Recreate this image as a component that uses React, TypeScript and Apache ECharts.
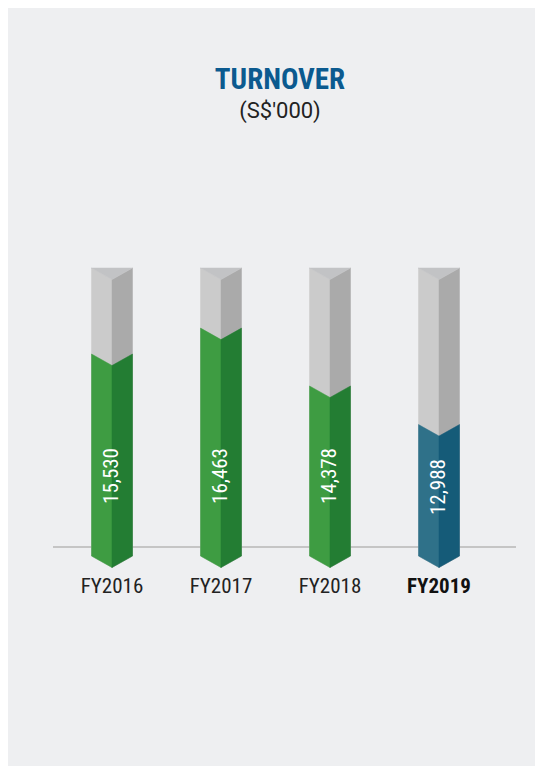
import React, { useEffect, useRef } from "react";
import * as echarts from "echarts";

const categories = ["FY2016", "FY2017", "FY2018", "FY2019"];
const turnover = [15530, 16463, 14378, 12988];
const highlightIndex = 3;
const titleText = "TURNOVER";
const unitText = "(S$'000)";
const axisMin = 8250;
const axisMax = 18630;

const NARROW = "'Liberation Sans Narrow', 'Arial Narrow', 'Roboto Condensed', Roboto, sans-serif";

export default function App() {
  const ref = useRef<HTMLDivElement>(null);

  useEffect(() => {
    if (!ref.current) return;
    const chart = echarts.init(ref.current, undefined, { renderer: "svg" });
    const hw = 20.5;
    const d = 11.5;

    const renderItem = (params: any, api: any) => {
      const i = api.value(0);
      const v = api.value(1);
      const p = api.coord([i, v]);
      const cx = p[0];
      const vY = p[1];
      const baseY = api.coord([i, axisMin])[1];
      const topY = api.coord([i, axisMax])[1];
      const hi = i === highlightIndex;
      const front = hi ? "#2f7189" : "#3e9c42";
      const side = hi ? "#155b78" : "#237d33";
      const poly = (pts: number[][], fill: string) => ({
        type: "polygon",
        shape: { points: pts },
        style: { fill, stroke: fill, lineWidth: 0.5 },
      });
      const labelY = Math.max(baseY - 80, vY + d + 51);
      return {
        type: "group",
        children: [
          poly([[cx - hw, topY], [cx, topY + d], [cx, baseY + d], [cx - hw, baseY]], "#cbcbcb"),
          poly([[cx, topY + d], [cx + hw, topY], [cx + hw, baseY], [cx, baseY + d]], "#aaaaaa"),
          poly([[cx - hw, topY], [cx + hw, topY], [cx, topY + d]], "#c2c3c5"),
          poly([[cx - hw, vY], [cx, vY + d], [cx, baseY + d], [cx - hw, baseY]], front),
          poly([[cx, vY + d], [cx + hw, vY], [cx + hw, baseY], [cx, baseY + d]], side),
          {
            type: "text",
            x: cx - 1,
            y: labelY,
            rotation: Math.PI / 2,
            style: {
              text: Number(v).toLocaleString("en-US"),
              fill: "#ffffff",
              font: `21px ${NARROW}`,
              align: "center",
              verticalAlign: "middle",
            },
          },
        ],
      };
    };

    chart.setOption({
      animation: false,
      backgroundColor: "#eeeff1",
      grid: { left: 49.5, right: 49.5, top: 260, bottom: 210 },
      xAxis: {
        type: "category",
        data: categories,
        axisLine: { show: false },
        axisTick: { show: false },
        axisLabel: {
          interval: 0,
          margin: 30,
          verticalAlign: "middle",
          color: "#222222",
          fontFamily: NARROW,
          fontSize: 21,
          formatter: (val: string, idx: number) =>
            idx === highlightIndex ? `{b|${val}}` : `{n|${val}}`,
          rich: {
            b: { fontWeight: "bold", fontFamily: NARROW, fontSize: 21, color: "#111111" },
            n: { fontFamily: NARROW, fontSize: 21, color: "#222222" },
          },
        },
      },
      yAxis: {
        type: "value",
        min: axisMin,
        max: axisMax,
        show: false,
      },
      graphic: [
        {
          type: "line",
          z: 0,
          shape: { x1: 45, y1: 539, x2: 508, y2: 539 },
          style: { stroke: "#c5c5c5", lineWidth: 2 },
        },
        {
          type: "text",
          x: 272,
          y: 70.5,
          style: {
            text: titleText,
            fill: "#0b5a8f",
            font: `bold 29px ${NARROW}`,
            align: "center",
            verticalAlign: "middle",
          },
        },
        {
          type: "text",
          x: 272,
          y: 102,
          style: {
            text: unitText,
            fill: "#222222",
            font: "22px Roboto, sans-serif",
            align: "center",
            verticalAlign: "middle",
          },
        },
      ],
      series: [
        {
          type: "custom",
          z: 5,
          data: turnover.map((v, i) => [i, v]),
          renderItem,
        },
      ],
    });

    return () => chart.dispose();
  }, []);

  return <div ref={ref} style={{ width: 535, height: 758 }} />;
}
